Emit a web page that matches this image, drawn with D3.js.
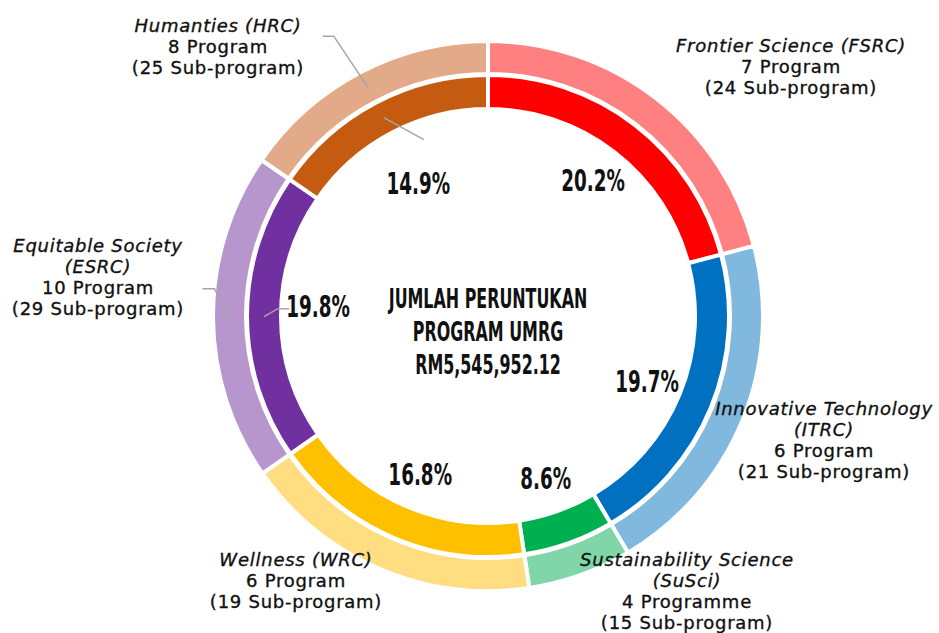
<!DOCTYPE html>
<html>
<head>
<meta charset="utf-8">
<script src="https://cdn.jsdelivr.net/npm/d3@7"></script>
<style>
  body { margin: 0; background: #fff; }
  svg { display: block; }
  .cat { font-family: "DejaVu Sans", sans-serif; font-size: 18px; fill: #111; stroke: #111; stroke-width: 0.35px; letter-spacing: 0.75px; }
  .cond { font-family: "Liberation Sans Narrow", "DejaVu Sans Condensed", sans-serif; font-weight: bold; fill: #111; }
</style>
</head>
<body>
<svg width="939" height="633"></svg>
<script>
const width = 939, height = 633;

// slices go clockwise from 12 o'clock
const centres = ["FSRC", "ITRC", "SuSci", "WRC", "ESRC", "HRC"];
// share of the ring as drawn
const shares = [20.9, 20.6, 6.1, 17.7, 19.3, 15.4];
// percentages as printed on the chart
const pctLabels = ["20.2%", "19.7%", "8.6%", "16.8%", "19.8%", "14.9%"];
const names = [
  ["Frontier Science (FSRC)"],
  ["Innovative Technology", "(ITRC)"],
  ["Sustainability Science", "(SuSci)"],
  ["Wellness (WRC)"],
  ["Equitable Society", "(ESRC)"],
  ["Humanties (HRC)"]
];
const programs = ["7 Program", "6 Program", "4 Programme", "6 Program", "10 Program", "8 Program"];
const subPrograms = ["(24 Sub-program)", "(21 Sub-program)", "(15 Sub-program)", "(19 Sub-program)", "(29 Sub-program)", "(25 Sub-program)"];
const innerColors = ["#ff0000", "#0070c0", "#00b050", "#ffc000", "#7030a0", "#c55a11"];
const outerColors = ["#ff8080", "#80b8de", "#80d6a8", "#ffdd80", "#b796ce", "#e2aa88"];
const centerText = ["JUMLAH PERUNTUKAN", "PROGRAM UMRG", "RM5,545,952.12"];

const cx = 488, cy = 316;
const condense = 0.68;

const svg = d3.select("svg")
  .attr("width", width)
  .attr("height", height);

const g = svg.append("g")
  .attr("transform", "translate(" + cx + "," + cy + ")");

const data = centres.map((c, i) => ({ key: c, value: shares[i], i: i }));

const pie = d3.pie()
  .sort(null)
  .value(d => d.value);

const arcs = pie(data);

// rings (radii padded by half the white stroke)
const outerArc = d3.arc().innerRadius(242).outerRadius(275);
const innerArc = d3.arc().innerRadius(207).outerRadius(241);
const labelArc = d3.arc().innerRadius(172).outerRadius(172);

g.selectAll(".outer-arc")
  .data(arcs)
  .enter().append("path")
  .attr("class", "outer-arc")
  .attr("d", outerArc)
  .style("fill", d => outerColors[d.data.i])
  .style("stroke", "#fff")
  .style("stroke-width", 4);

g.selectAll(".inner-arc")
  .data(arcs)
  .enter().append("path")
  .attr("class", "inner-arc")
  .attr("d", innerArc)
  .style("fill", d => innerColors[d.data.i])
  .style("stroke", "#fff")
  .style("stroke-width", 4);

// leader lines for HRC and ESRC
const line = d3.line();
function leader(pts) {
  g.append("path")
    .attr("d", line(pts))
    .style("fill", "none")
    .style("stroke", "#a6a6a6")
    .style("stroke-width", 1.5);
}
const hrc = arcs[5], esrc = arcs[4];
let p = outerArc.centroid(hrc);
leader([p, [p[0] - 34, p[1] - 51], [p[0] - 45, p[1] - 51]]);
p = innerArc.centroid(hrc);
leader([p, [p[0] + 40, p[1] + 22]]);
p = outerArc.centroid(esrc);
leader([p, [p[0] - 15, p[1] - 28], [p[0] - 27, p[1] - 28]]);
p = innerArc.centroid(esrc);
leader([p, [p[0] + 14, p[1] - 8], [p[0] + 25, p[1] - 8]]);

// percentage labels
g.selectAll(".pct")
  .data(arcs)
  .enter().append("text")
  .attr("class", "cond pct")
  .attr("transform", d => {
    let c = labelArc.centroid(d);
    if (d.data.key === "HRC") c = c.map(v => v * 150 / 172);
    if (d.data.key === "ESRC") c = [c[0] + 2, c[1] - 10];
    return "translate(" + c + ") scale(" + condense + ",1)";
  })
  .attr("text-anchor", "middle")
  .attr("dy", "0.36em")
  .style("font-size", "30px")
  .text(d => pctLabels[d.data.i]);

// centre title
g.selectAll(".center")
  .data(centerText)
  .enter().append("text")
  .attr("class", "cond center")
  .attr("transform", (d, i) => "translate(0," + (-8 + i * 33) + ") scale(" + condense + ",1)")
  .attr("text-anchor", "middle")
  .style("font-size", "26px")
  .text(d => d);

// category labels around the ring
const labelPos = {
  FSRC: [791, 52], ITRC: [824, 415], SuSci: [687, 566],
  WRC: [296, 566], ESRC: [98, 252], HRC: [218, 32]
};
const lh = 21;
centres.forEach((c, i) => {
  const t = svg.append("text")
    .attr("class", "cat")
    .attr("text-anchor", "middle")
    .attr("x", labelPos[c][0])
    .attr("y", labelPos[c][1]);
  const lines = names[i].map(s => ({ s: s, italic: true }))
    .concat([{ s: programs[i] }, { s: subPrograms[i] }]);
  lines.forEach((l, k) => {
    t.append("tspan")
      .attr("x", labelPos[c][0])
      .attr("dy", k === 0 ? 0 : lh)
      .style("font-style", l.italic ? "italic" : "normal")
      .text(l.s);
  });
});
</script>
</body>
</html>
